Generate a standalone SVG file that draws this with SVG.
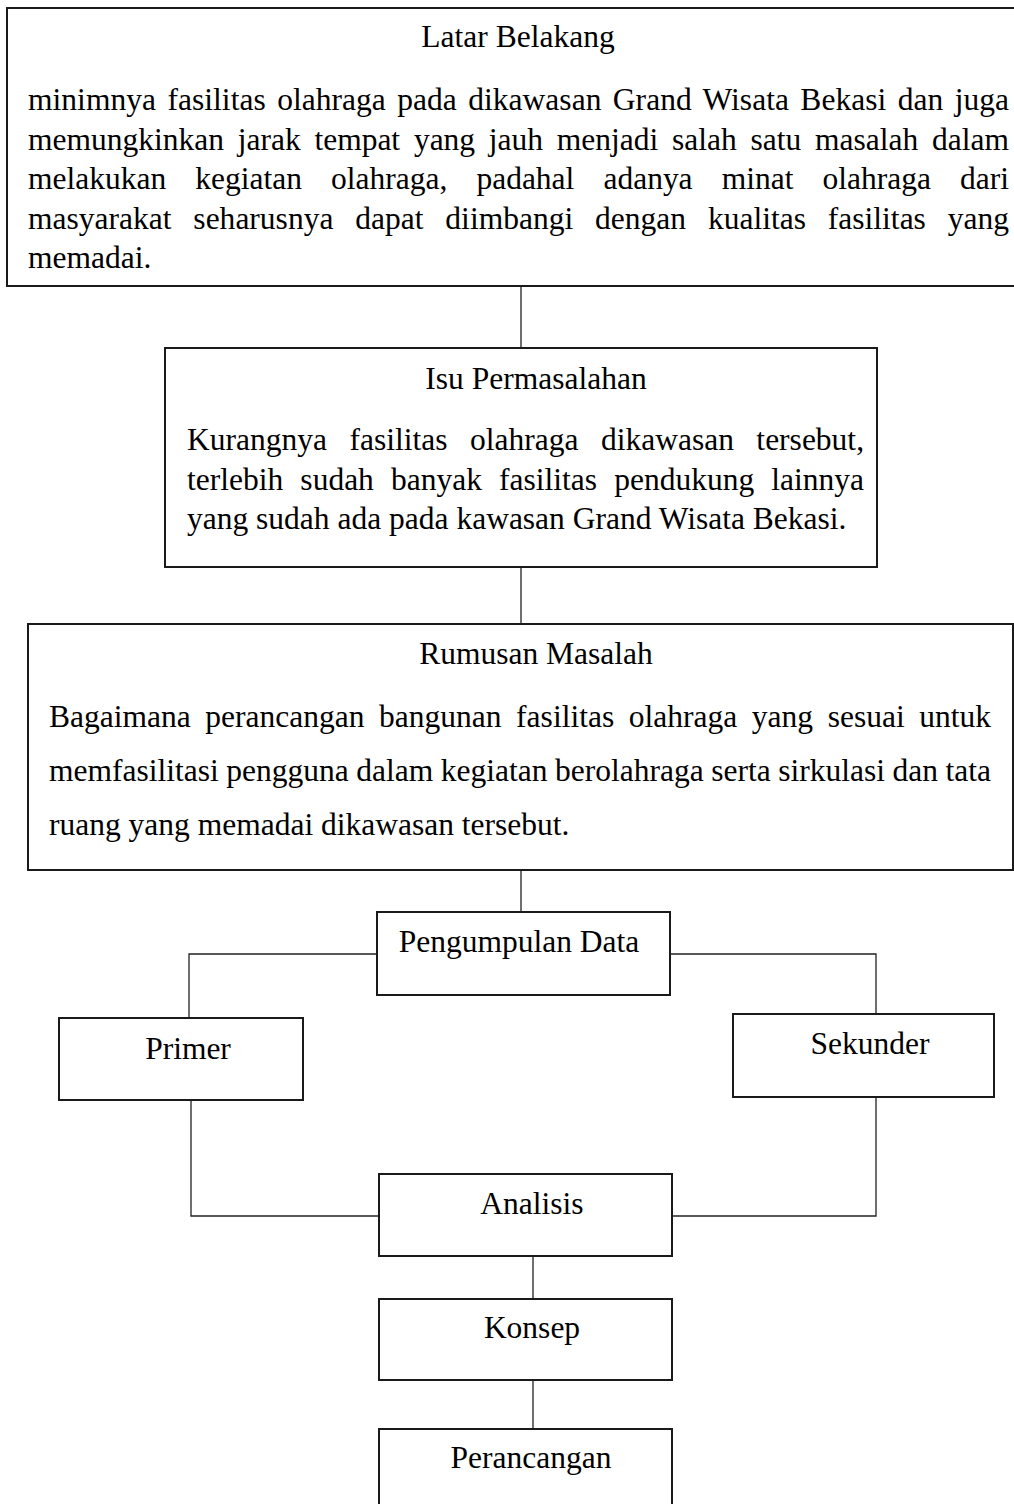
<svg xmlns="http://www.w3.org/2000/svg" width="1014" height="1504" viewBox="0 0 1014 1504">
<style>
.box{fill:#fff;stroke:#1a1a1a;stroke-width:2}
.t{font-family:"Liberation Serif","Times New Roman",serif;font-size:31.5px;fill:#000}
.c{text-anchor:middle}
.conn{fill:none;stroke:#222;stroke-width:1.3}
</style>
<rect width="1014" height="1504" fill="#fff"/>
<g id="connectors">
<path class="conn" d="M521 286V348"/>
<path class="conn" d="M521 567V624"/>
<path class="conn" d="M521 870V912"/>
<path class="conn" d="M377 954H189V1018"/>
<path class="conn" d="M670 954H876V1014"/>
<path class="conn" d="M191 1100V1216H379"/>
<path class="conn" d="M876 1097V1216H672"/>
<path class="conn" d="M533 1256V1299"/>
<path class="conn" d="M533 1380V1429"/>
</g>
<g id="latar-belakang">
<rect class="box" x="7" y="8" width="1012" height="278"/>
<text class="t c" x="518" y="47">Latar Belakang</text>
<text class="t" x="28" y="110" word-spacing="3.5" textLength="981" lengthAdjust="spacing">minimnya fasilitas olahraga pada dikawasan Grand Wisata Bekasi dan juga</text>
<text class="t" x="28" y="149.5" word-spacing="5.9" textLength="981" lengthAdjust="spacing">memungkinkan jarak tempat yang jauh menjadi salah satu masalah dalam</text>
<text class="t" x="28" y="189" word-spacing="21.2" textLength="981" lengthAdjust="spacing">melakukan kegiatan olahraga, padahal adanya minat olahraga dari</text>
<text class="t" x="28" y="228.5" word-spacing="14" textLength="981" lengthAdjust="spacing">masyarakat seharusnya dapat diimbangi dengan kualitas fasilitas yang</text>
<text class="t" x="28" y="268">memadai.</text>
</g>
<g id="isu-permasalahan">
<rect class="box" x="165" y="348" width="712" height="219"/>
<text class="t c" x="536" y="389">Isu Permasalahan</text>
<text class="t" x="187" y="450" word-spacing="14.6" textLength="677" lengthAdjust="spacing">Kurangnya fasilitas olahraga dikawasan tersebut,</text>
<text class="t" x="187" y="489.5" word-spacing="9.2" textLength="677" lengthAdjust="spacing">terlebih sudah banyak fasilitas pendukung lainnya</text>
<text class="t" x="187" y="529">yang sudah ada pada kawasan Grand Wisata Bekasi.</text>
</g>
<g id="rumusan-masalah">
<rect class="box" x="28" y="624" width="985" height="246"/>
<text class="t c" x="536" y="664">Rumusan Masalah</text>
<text class="t" x="49" y="727" word-spacing="6.7" textLength="942" lengthAdjust="spacing">Bagaimana perancangan bangunan fasilitas olahraga yang sesuai untuk</text>
<text class="t" x="49" y="781" word-spacing="-0.4" textLength="942" lengthAdjust="spacing">memfasilitasi pengguna dalam kegiatan berolahraga serta sirkulasi dan tata</text>
<text class="t" x="49" y="835">ruang yang memadai dikawasan tersebut.</text>
</g>
<g id="pengumpulan-data">
<rect class="box" x="377" y="912" width="293" height="83"/>
<text class="t c" x="519" y="952">Pengumpulan Data</text>
</g>
<g id="primer">
<rect class="box" x="59" y="1018" width="244" height="82"/>
<text class="t c" x="188" y="1059">Primer</text>
</g>
<g id="sekunder">
<rect class="box" x="733" y="1014" width="261" height="83"/>
<text class="t c" x="870" y="1054">Sekunder</text>
</g>
<g id="analisis">
<rect class="box" x="379" y="1174" width="293" height="82"/>
<text class="t c" x="532" y="1214">Analisis</text>
</g>
<g id="konsep">
<rect class="box" x="379" y="1299" width="293" height="81"/>
<text class="t c" x="532" y="1338">Konsep</text>
</g>
<g id="perancangan">
<rect class="box" x="379" y="1429" width="293" height="90"/>
<text class="t c" x="531" y="1468">Perancangan</text>
</g>
</svg>
